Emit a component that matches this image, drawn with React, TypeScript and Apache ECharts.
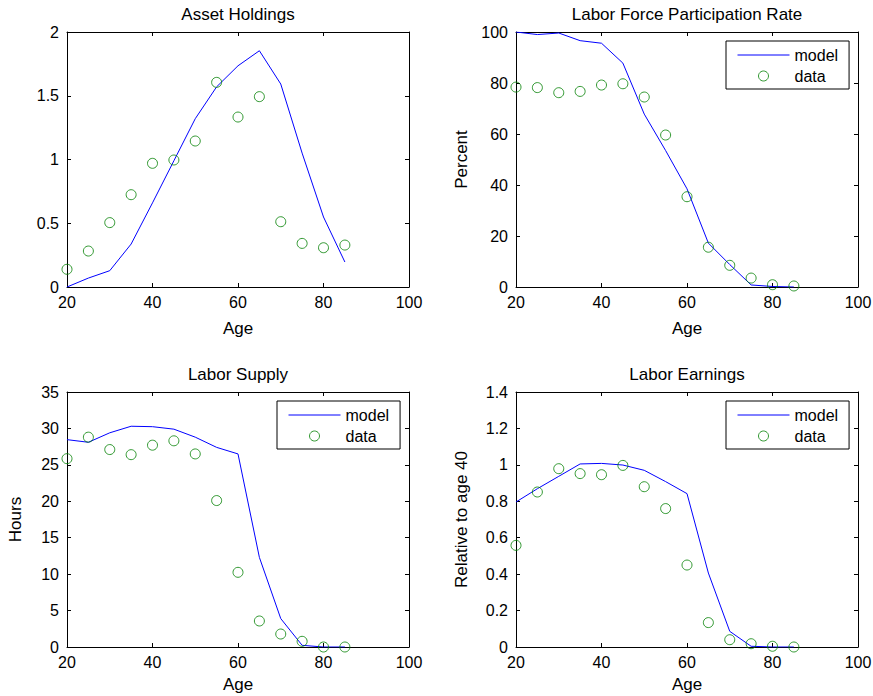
import React, { useEffect, useRef } from "react";
import * as echarts from "echarts";

const AGES = [20, 25, 30, 35, 40, 45, 50, 55, 60, 65, 70, 75, 80, 85];

const assetModel = [0, 0.07, 0.128, 0.337, 0.66, 0.99, 1.32, 1.57, 1.735, 1.853, 1.592, 1.05, 0.549, 0.196];
const assetData = [0.139, 0.282, 0.505, 0.724, 0.97, 0.996, 1.145, 1.605, 1.333, 1.493, 0.512, 0.342, 0.308, 0.329];

const lfprModel = [100, 99, 99.6, 96.6, 95.6, 87.8, 67.8, 53.5, 38.5, 17.2, 8.8, 0.8, 0.2, 0];
const lfprData = [78.4, 78.2, 76.2, 76.7, 79.2, 79.7, 74.5, 59.6, 35.4, 15.6, 8.5, 3.5, 0.9, 0.4];

const hoursModel = [28.46, 28.1, 29.4, 30.3, 30.24, 29.9, 28.8, 27.4, 26.5, 12.3, 3.9, 0.23, 0, 0];
const hoursData = [25.85, 28.8, 27.1, 26.4, 27.7, 28.3, 26.5, 20.1, 10.25, 3.57, 1.78, 0.78, 0, 0];

const earnModel = [0.796, 0.869, 0.937, 1.005, 1.008, 0.999, 0.97, 0.908, 0.842, 0.406, 0.086, 0.004, 0, 0];
const earnData = [0.558, 0.851, 0.979, 0.952, 0.946, 0.997, 0.88, 0.76, 0.45, 0.134, 0.04, 0.018, 0.004, 0];

const TITLES = ["Asset Holdings", "Labor Force Participation Rate", "Labor Supply", "Labor Earnings"];
const Y_NAMES = ["", "Percent", "Hours", "Relative to age 40"];
const X_NAME = "Age";
const X_RANGE = { min: 20, max: 100, interval: 20 };
const Y_RANGES = [
  { min: 0, max: 2, interval: 0.5 },
  { min: 0, max: 100, interval: 20 },
  { min: 0, max: 35, interval: 5 },
  { min: 0, max: 1.4, interval: 0.2 },
];
const MODELS = [assetModel, lfprModel, hoursModel, earnModel];
const DATAS = [assetData, lfprData, hoursData, earnData];
const LEGEND_GRIDS = [1, 2, 3];

const FONT = "Liberation Sans, Arial, Helvetica, sans-serif";
const GRIDS = [
  { left: 67, top: 32 },
  { left: 516, top: 32 },
  { left: 67, top: 392 },
  { left: 516, top: 392 },
];
const GW = 342;
const GH = 255;
const X_NAME_GAP = [33, 33, 29, 29];
const Y_NAME_GAP = [46, 46, 43, 46];

export default function App() {
  const ref = useRef<HTMLDivElement>(null);
  useEffect(() => {
    if (!ref.current) return;
    const chart = echarts.init(ref.current, undefined, { renderer: "svg" });
    const line = { color: "#000", width: 1 };
    const tick = { show: true, inside: true, length: 4, lineStyle: line };
    const xAxis: any[] = [];
    const yAxis: any[] = [];
    const series: any[] = [];
    GRIDS.forEach((g, i) => {
      xAxis.push({
        type: "value",
        gridIndex: i,
        position: "bottom",
        ...X_RANGE,
        name: X_NAME,
        nameLocation: "middle",
        nameGap: X_NAME_GAP[i],
        nameTextStyle: { fontFamily: FONT, fontSize: 17, color: "#000" },
        axisLine: { show: true, onZero: false, lineStyle: line },
        axisTick: tick,
        axisLabel: { fontFamily: FONT, fontSize: 16, color: "#000", margin: 7 },
        splitLine: { show: false },
      });
      xAxis.push({
        type: "value",
        gridIndex: i,
        position: "top",
        ...X_RANGE,
        axisLine: { show: true, onZero: false, lineStyle: line },
        axisTick: tick,
        axisLabel: { show: false },
        splitLine: { show: false },
      });
      yAxis.push({
        type: "value",
        gridIndex: i,
        position: "left",
        ...Y_RANGES[i],
        name: Y_NAMES[i],
        nameLocation: "middle",
        nameRotate: 90,
        nameGap: Y_NAME_GAP[i],
        nameTextStyle: { fontFamily: FONT, fontSize: 17, color: "#000" },
        axisLine: { show: true, onZero: false, lineStyle: line },
        axisTick: tick,
        axisLabel: { fontFamily: FONT, fontSize: 16, color: "#000", margin: 8 },
        splitLine: { show: false },
      });
      yAxis.push({
        type: "value",
        gridIndex: i,
        position: "right",
        ...Y_RANGES[i],
        axisLine: { show: true, onZero: false, lineStyle: line },
        axisTick: tick,
        axisLabel: { show: false },
        splitLine: { show: false },
      });
      series.push({
        type: "line",
        name: "model",
        xAxisIndex: 2 * i,
        yAxisIndex: 2 * i,
        symbol: "none",
        color: "#0000ff",
        lineStyle: { color: "#0000ff", width: 1 },
        data: AGES.map((a, k) => [a, MODELS[i][k]]),
        z: 3,
      });
      series.push({
        type: "scatter",
        name: "data",
        xAxisIndex: 2 * i,
        yAxisIndex: 2 * i,
        symbol: "circle",
        symbolSize: 10,
        itemStyle: { color: "rgba(0,0,0,0)", borderColor: "#008000", borderWidth: 1 },
        data: AGES.map((a, k) => [a, DATAS[i][k]]),
        z: 4,
      });
    });

    const legend = LEGEND_GRIDS.map((i) => ({
      orient: "vertical",
      left: GRIDS[i].left + GW - 132,
      top: GRIDS[i].top + 9,
      itemWidth: 52,
      itemHeight: 10,
      itemGap: 5,
      padding: [6, 11, 5, 11],
      borderColor: "#000",
      borderWidth: 1,
      backgroundColor: "#fff",
      selectedMode: false,
      textStyle: { fontFamily: FONT, fontSize: 16, color: "#000" },
      data: [
        {
          name: "model",
          itemStyle: { color: "rgba(0,0,0,0)", borderColor: "rgba(0,0,0,0)", borderWidth: 0 },
          lineStyle: { color: "#0000ff", width: 1 },
        },
        {
          name: "data",
          icon: "circle",
          itemStyle: { color: "rgba(0,0,0,0)", borderColor: "#008000", borderWidth: 1 },
        },
      ],
    }));

    const title = GRIDS.map((g, i) => ({
      text: TITLES[i],
      left: g.left + GW / 2,
      top: g.top - 26,
      textAlign: "center",
      padding: 0,
      textStyle: { fontFamily: FONT, fontSize: 17, fontWeight: "normal", color: "#000" },
    }));

    chart.setOption({
      animation: false,
      backgroundColor: "#fff",
      title,
      legend,
      grid: GRIDS.map((g) => ({
        left: g.left,
        top: g.top,
        width: GW,
        height: GH,
        containLabel: false,
        outerBoundsMode: "none",
      })),
      xAxis,
      yAxis,
      series,
    });
    return () => chart.dispose();
  }, []);
  return (
    <div
      ref={ref}
      style={{ position: "fixed", left: 0, top: 0, width: 873, height: 696, background: "#fff" }}
    />
  );
}
